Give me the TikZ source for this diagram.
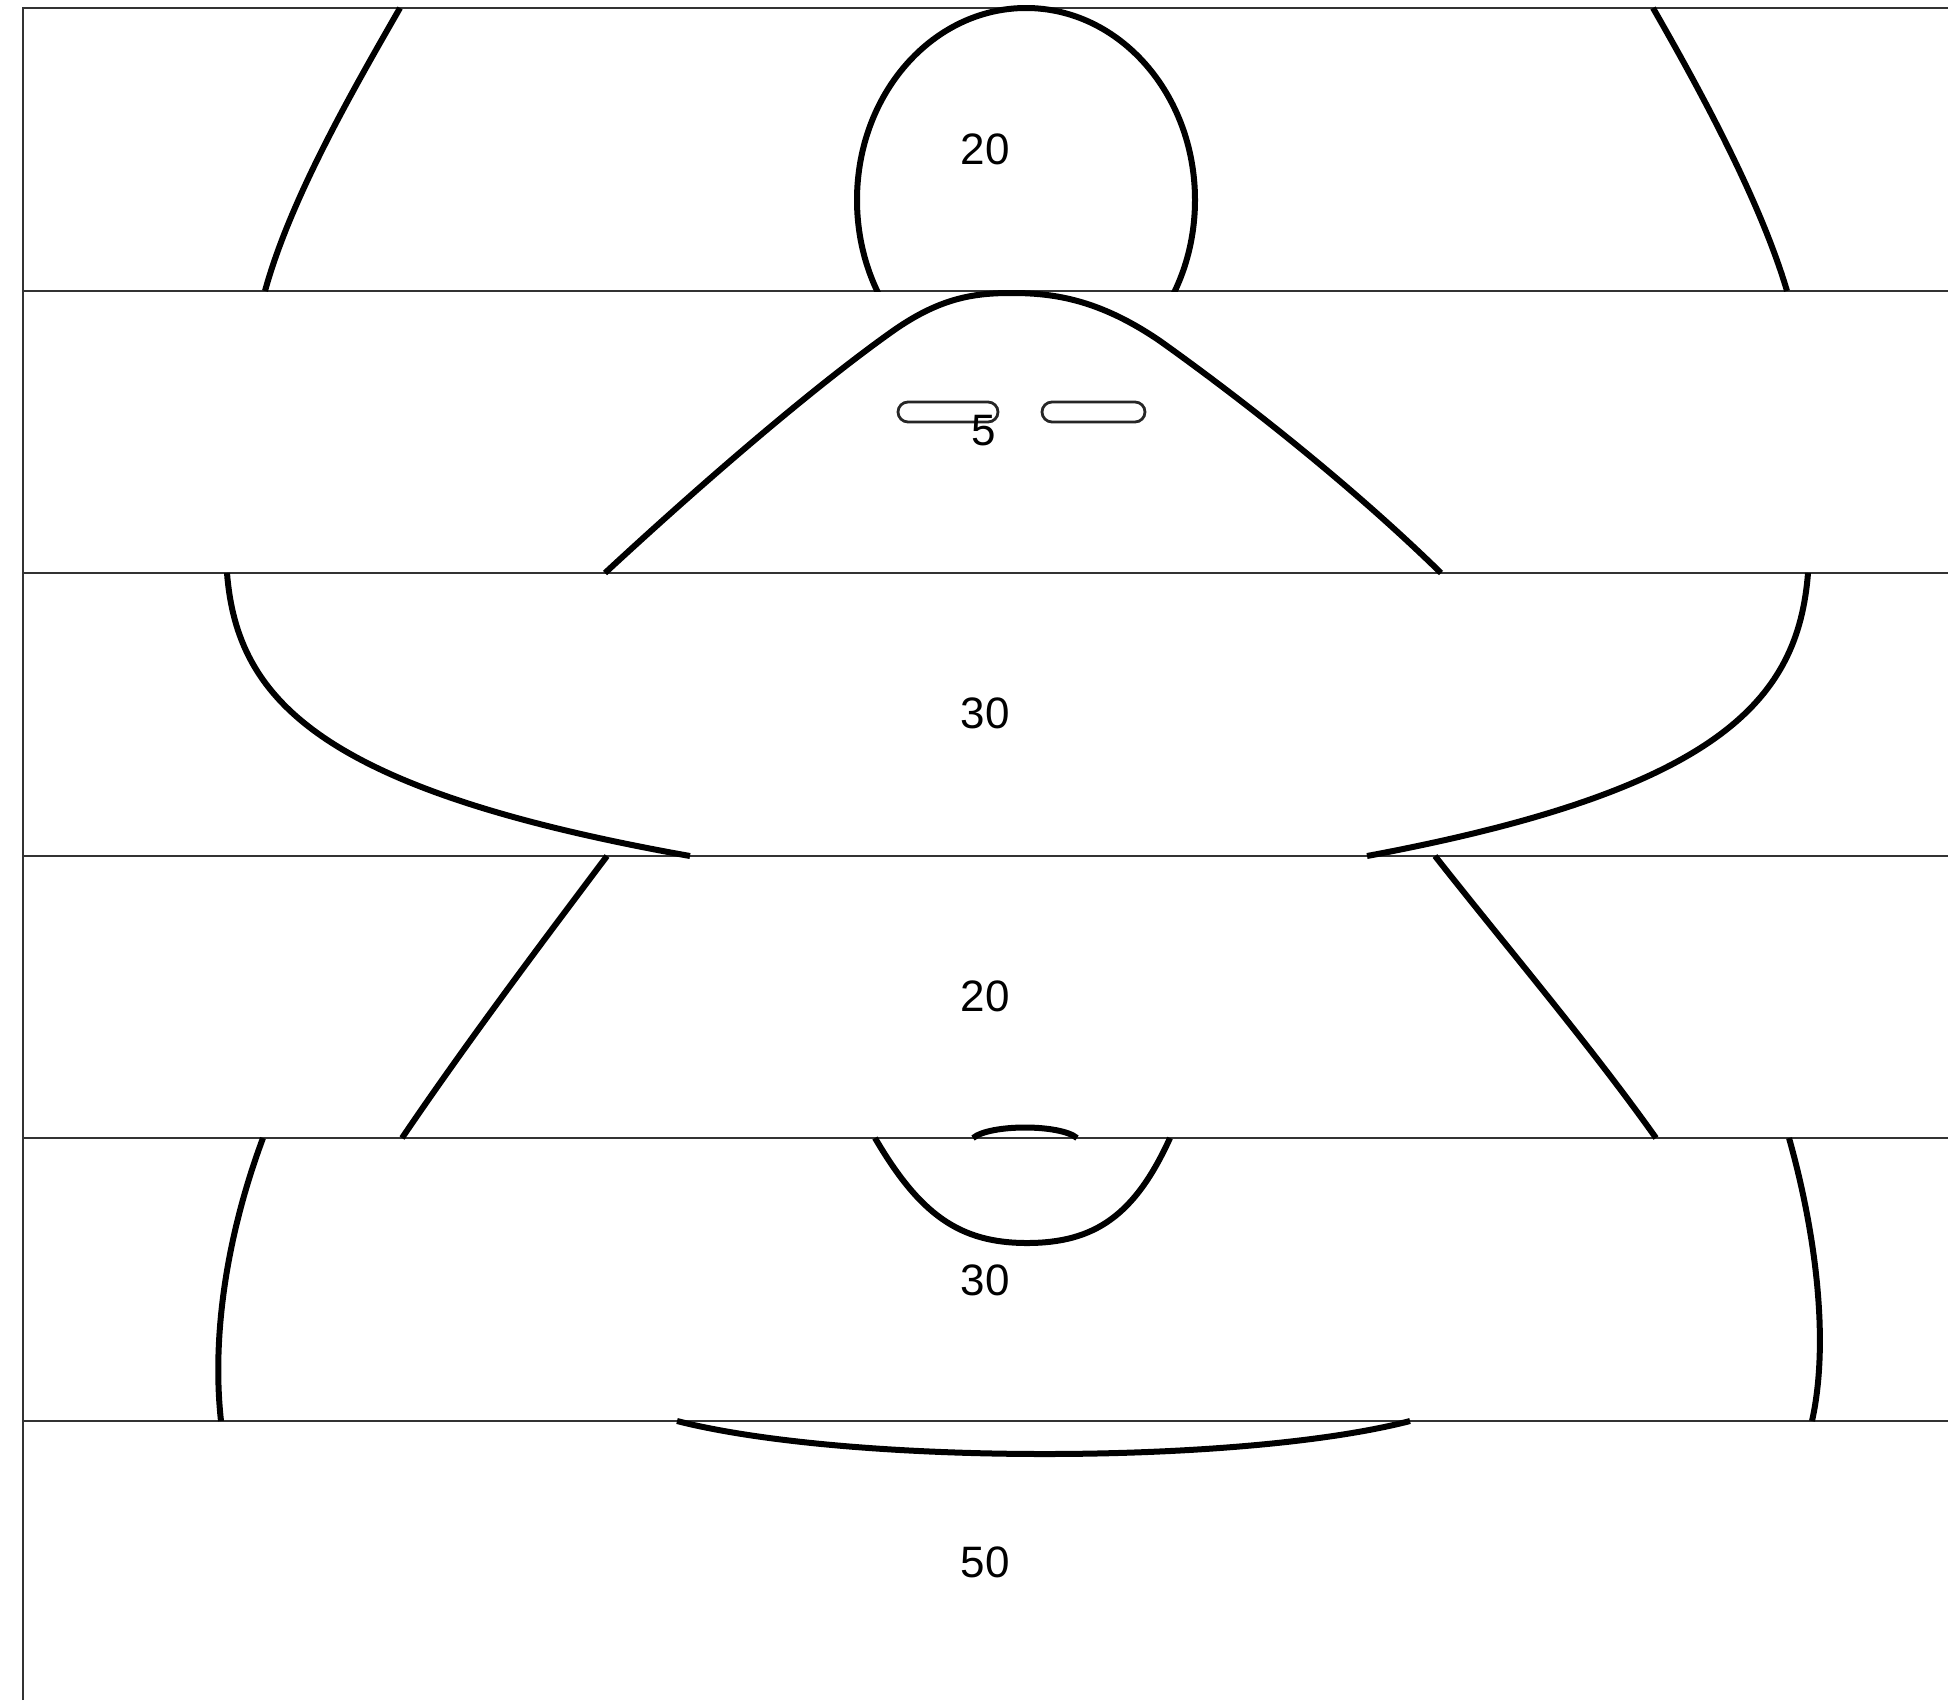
\documentclass[tikz,border=0pt]{standalone}
\usepackage{fontspec}
\setmainfont{Liberation Sans}
\begin{document}
\begin{tikzpicture}[x=1pt,y=-1pt,
  frameline/.style={line width=2.8pt,draw=black!80},
  curveline/.style={line width=6pt,draw=black},
  slot/.style={line width=2.8pt,draw=black!85,rounded corners=10pt},
  lab/.style={font=\fontsize{44}{48}\selectfont,inner sep=0pt,text=black}]
\useasboundingbox[fill=white] (0,0) rectangle (1948,1700);
% frame
\draw[frameline] (23,1700) -- (23,8) -- (1948,8);
\foreach \yy in {291,573,856,1138,1421}{\draw[frameline] (23,\yy) -- (1948,\yy);}
% strip 1
\draw[curveline] (400,8) .. controls (350,95) and (290,200) .. (265,291);
\draw[curveline] (1653,8) .. controls (1700,90) and (1760,200) .. (1787,291);
\begin{scope}
\clip (23,5) rectangle (1948,291);
\draw[curveline] (1026,200) ellipse [x radius=169, y radius=192];
\end{scope}
% strip 2
\draw[curveline] (605,573) .. controls (700,485) and (810,390) .. (890,333)
  .. controls (940,297) and (975,293) .. (1012,293)
  .. controls (1055,293) and (1100,300) .. (1160,341)
  .. controls (1240,398) and (1350,484) .. (1441,573);
\draw[slot] (898,402) rectangle (998,422);
\draw[slot] (1042,402) rectangle (1145,422);
% strip 3
\draw[curveline] (227,573) .. controls (237,700) and (320,790) .. (690,856);
\draw[curveline] (1808,573) .. controls (1798,700) and (1720,790) .. (1367,856);
% strip 4
\draw[curveline] (607,856) .. controls (540,945) and (465,1045) .. (402,1138);
\draw[curveline] (1435,856) .. controls (1505,945) and (1590,1045) .. (1656,1138);
% strip 5
\draw[curveline] (973,1138) .. controls (990,1124) and (1060,1124) .. (1077,1138);
\draw[curveline] (875,1138) .. controls (920,1215) and (960,1243) .. (1027,1243) .. controls (1095,1243) and (1135,1215) .. (1170,1138);
\draw[curveline] (263,1138) .. controls (225,1240) and (212,1340) .. (221,1421);
\draw[curveline] (1789,1138) .. controls (1815,1230) and (1830,1340) .. (1812,1421);
% strip 6
\draw[curveline] (677,1421) .. controls (850,1465) and (1240,1465) .. (1410,1421);
% labels
\node[lab] (l1) at (985,149) {20};
\node[lab] (l2) at (984,431) {5};
\node[lab] (l3) at (985,713) {30};
\node[lab] (l4) at (985,996) {20};
\node[lab] (l5) at (985,1280) {30};
\node[lab] (l6) at (985,1562) {50};
\end{tikzpicture}
\end{document}
